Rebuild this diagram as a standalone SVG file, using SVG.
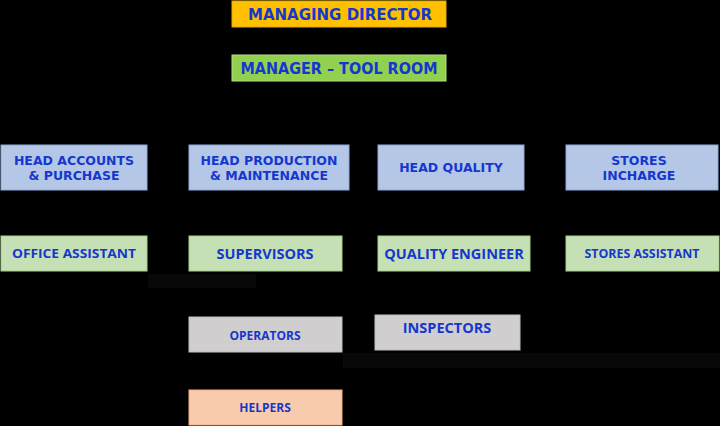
<svg xmlns="http://www.w3.org/2000/svg" width="720" height="426" viewBox="0 0 720 426">
<style>
.t{font-family:"DejaVu Sans",Verdana,sans-serif;font-weight:bold;fill:#1537CF;text-anchor:middle}
.c{font-family:"Open Sans","Liberation Sans",sans-serif;font-weight:bold;fill:#1537CF;text-anchor:middle}
.blue{fill:#B4C7E7;stroke:#8FAADC;stroke-width:1}
.green{fill:#C5E0B4;stroke:#A9D18E;stroke-width:1}
.gray{fill:#D0CECE;stroke:#BFBFBF;stroke-width:1}
.conn{stroke:#000;stroke-width:1;fill:none}
</style>
<rect width="720" height="426" fill="#000"/>
<rect x="148" y="274" width="108" height="14" fill="#080808"/>
<rect x="343" y="353" width="377" height="15" fill="#080808"/>
<g id="connectors" class="conn">
<path d="M339 27V55"/>
<path d="M339 81V118H74V145M269 118V145M451 118V145M642 118V145"/>
<path d="M74 190V236M269 190V236M451 190V236M642 190V236"/>
<path d="M265 271V317M265 352V390M451 271V315"/>
</g>
<g id="managing-director"><rect x="232" y="1" width="214" height="26" fill="#FFC000" stroke="#E6AD00"/><text class="t" x="340" y="20" font-size="16" textLength="184" lengthAdjust="spacingAndGlyphs">MANAGING DIRECTOR</text></g>
<g id="manager-tool-room"><rect x="232" y="55" width="214" height="26" fill="#92D050" stroke="#B5E08A"/><text class="t" x="339" y="74" font-size="16" textLength="197" lengthAdjust="spacingAndGlyphs">MANAGER – TOOL ROOM</text></g>
<g id="head-accounts"><rect class="blue" x="1" y="145" width="146" height="45"/><text class="t" x="74" y="165" font-size="12.5">HEAD ACCOUNTS</text><text class="t" x="74" y="180" font-size="12.5">&amp; PURCHASE</text></g>
<g id="head-production"><rect class="blue" x="189" y="145" width="160" height="45"/><text class="t" x="269" y="165" font-size="12.5">HEAD PRODUCTION</text><text class="t" x="269" y="180" font-size="12.5">&amp; MAINTENANCE</text></g>
<g id="head-quality"><rect class="blue" x="378" y="145" width="146" height="45"/><text class="t" x="451" y="172" font-size="12.5">HEAD QUALITY</text></g>
<g id="stores-incharge"><rect class="blue" x="566" y="145" width="152" height="45"/><text class="t" x="639" y="165" font-size="12.5">STORES</text><text class="t" x="639" y="180" font-size="12.5">INCHARGE</text></g>
<g id="office-assistant"><rect class="green" x="1" y="236" width="146" height="35"/><text class="c" x="74" y="258" font-size="12.5" textLength="124" lengthAdjust="spacingAndGlyphs">OFFICE ASSISTANT</text></g>
<g id="supervisors"><rect class="green" x="189" y="236" width="153" height="35"/><text class="c" x="265" y="259" font-size="14.5">SUPERVISORS</text></g>
<g id="quality-engineer"><rect class="green" x="378" y="236" width="152" height="35"/><text class="c" x="454" y="259" font-size="14.5">QUALITY ENGINEER</text></g>
<g id="stores-assistant"><rect class="green" x="566" y="236" width="153" height="35"/><text class="c" x="642" y="258" font-size="12.5" textLength="115" lengthAdjust="spacingAndGlyphs">STORES ASSISTANT</text></g>
<g id="operators"><rect class="gray" x="189" y="317" width="153" height="35"/><text class="c" x="265" y="340" font-size="12">OPERATORS</text></g>
<g id="inspectors"><rect class="gray" x="375" y="315" width="145" height="35"/><text class="c" x="447" y="333" font-size="14.5">INSPECTORS</text></g>
<g id="helpers"><rect x="189" y="390" width="153" height="35" fill="#F8CBAD" stroke="#F4B183"/><text class="c" x="265" y="412" font-size="12">HELPERS</text></g>
</svg>
